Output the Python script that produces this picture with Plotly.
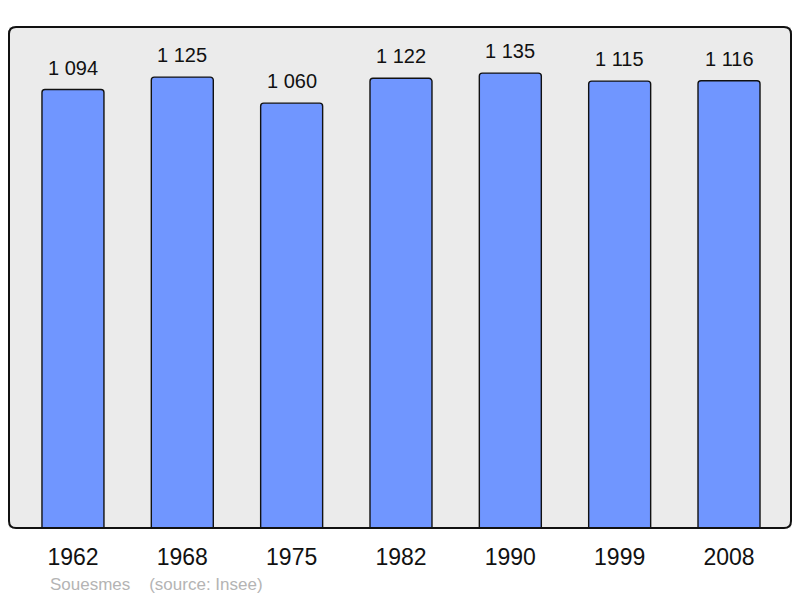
import plotly.graph_objects as go

years = ["1962", "1968", "1975", "1982", "1990", "1999", "2008"]
population = [1094, 1125, 1060, 1122, 1135, 1115, 1116]
labels = [f"{v:,}".replace(",", " ") for v in population]

W, H = 800, 598
ml, mr, mt, mb = 9, 9, 27, 70
pw, ph = W - ml - mr, H - mt - mb
FONT = "Liberation Sans, Arial"

fig = go.Figure()
fig.add_trace(go.Bar(
    x=list(range(len(years))), y=population,
    width=0.567,
    marker=dict(color="#7096ff", line=dict(color="#111111", width=1.4), cornerradius=3),
    hoverinfo="skip",
))

for i, (v, t) in enumerate(zip(population, labels)):
    fig.add_annotation(x=i, y=v, text=t, showarrow=False, yshift=22,
                       font=dict(family=FONT, size=20, color="#111111"))

fig.add_annotation(xref="paper", yref="paper", x=(48 - ml) / pw, y=-(584 - (mt + ph)) / ph,
                   text="Souesmes &nbsp;&nbsp;&nbsp;(source: Insee)", showarrow=False,
                   xanchor="left", yanchor="middle",
                   font=dict(family=FONT, size=17, color="#b4b4b4"))

rx, ry = 7 / pw, 7 / ph
path = (f"M {rx},0 L {1-rx},0 Q 1,0 1,{ry} L 1,{1-ry} Q 1,1 {1-rx},1 "
        f"L {rx},1 Q 0,1 0,{1-ry} L 0,{ry} Q 0,0 {rx},0 Z")
fig.add_shape(type="path", xref="paper", yref="paper", path=path,
              line=dict(color="#111111", width=2), fillcolor="rgba(0,0,0,0)", layer="above")

fig.update_layout(
    width=W, height=H,
    margin=dict(l=ml, r=mr, t=mt, b=mb),
    paper_bgcolor="white", plot_bgcolor="#ebebeb",
    showlegend=False,
    xaxis=dict(range=[-0.585, 6.567], tickmode="array", tickvals=list(range(len(years))),
               ticktext=years, showgrid=False, zeroline=False, showline=False,
               ticks="outside", ticklen=8, tickcolor="rgba(0,0,0,0)",
               tickfont=dict(family=FONT, size=23, color="#111111")),
    yaxis=dict(range=[0, 1250], showticklabels=False, showgrid=False, zeroline=False,
               showline=False),
)

fig.write_html("out.html", config={"displayModeBar": False},
               post_script="document.body.style.margin='0';document.body.style.overflow='hidden';")
